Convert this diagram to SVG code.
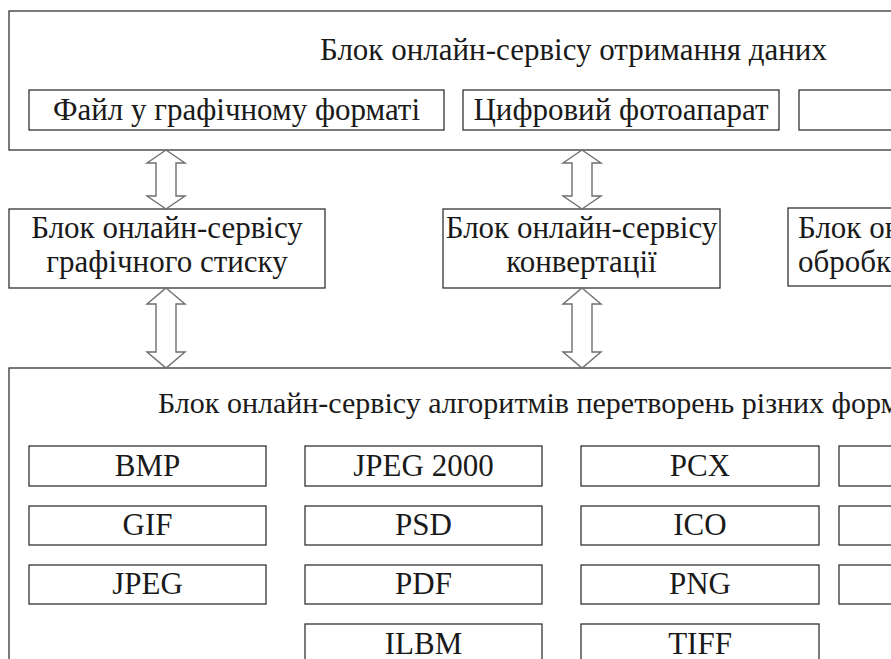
<svg xmlns="http://www.w3.org/2000/svg" width="891" height="659" viewBox="0 0 891 659" font-family="'Liberation Serif', Tinos, 'Times New Roman', 'DejaVu Serif', 'Noto Serif', serif">
<style>
.blk{fill:#fff;stroke:#333;stroke-width:1.3}
.t{font-family:'Liberation Serif', Tinos, 'Times New Roman', 'DejaVu Serif', 'Noto Serif', serif;font-size:31px;fill:#1a1a1a}
.c{text-anchor:middle}
.arr{fill:#fff;stroke:#6e6e6e;stroke-width:1.4;stroke-linejoin:miter}
</style>
<rect width="891" height="659" fill="#fff"/>
<g id="top-block">
<rect class="blk" x="9" y="11" width="900" height="139"/>
<text class="t" x="320" y="60">Блок онлайн-сервісу отримання даних</text>
</g>
<g id="file-graphic">
<rect class="blk" x="29" y="90" width="415" height="40"/>
<text class="t c" x="236.5" y="120">Файл у графічному форматі</text>
</g>
<g id="camera">
<rect class="blk" x="463" y="90" width="316" height="40"/>
<text class="t c" x="621" y="120">Цифровий фотоапарат</text>
</g>
<g id="source3">
<rect class="blk" x="799" y="90" width="120" height="40"/>
</g>
<g id="compress">
<rect class="blk" x="9" y="209" width="316" height="79"/>
<text class="t c" x="167" y="238">Блок онлайн-сервісу</text>
<text class="t c" x="167" y="272">графічного стиску</text>
</g>
<g id="convert">
<rect class="blk" x="443" y="209" width="277" height="79"/>
<text class="t c" x="581.5" y="238">Блок онлайн-сервісу</text>
<text class="t c" x="581.5" y="272">конвертації</text>
</g>
<g id="process">
<rect class="blk" x="788" y="208" width="200" height="78"/>
<text class="t" x="798" y="238">Блок онлайн-сервісу</text>
<text class="t" x="798" y="272">обробки</text>
</g>
<g id="algorithms">
<rect class="blk" x="9" y="368" width="900" height="320"/>
<text class="t" x="158" y="413" style="font-size:30px">Блок онлайн-сервісу алгоритмів перетворень різних форматів</text>
</g>
<g id="bmp"><rect class="blk" x="29" y="446" width="237" height="40"/><text class="t c" x="147.5" y="476">BMP</text></g>
<g id="gif"><rect class="blk" x="29" y="506" width="237" height="39"/><text class="t c" x="147.5" y="535">GIF</text></g>
<g id="jpeg"><rect class="blk" x="29" y="565" width="237" height="39"/><text class="t c" x="147.5" y="594">JPEG</text></g>
<g id="jpeg2000"><rect class="blk" x="305" y="446" width="237" height="40"/><text class="t c" x="423.5" y="476">JPEG 2000</text></g>
<g id="psd"><rect class="blk" x="305" y="506" width="237" height="39"/><text class="t c" x="423.5" y="535">PSD</text></g>
<g id="pdf"><rect class="blk" x="305" y="565" width="237" height="39"/><text class="t c" x="423.5" y="594">PDF</text></g>
<g id="ilbm"><rect class="blk" x="305" y="624" width="237" height="60"/><text class="t c" x="423.5" y="654">ILBM</text></g>
<g id="pcx"><rect class="blk" x="581" y="446" width="238" height="40"/><text class="t c" x="700" y="476">PCX</text></g>
<g id="ico"><rect class="blk" x="581" y="506" width="238" height="39"/><text class="t c" x="700" y="535">ICO</text></g>
<g id="png"><rect class="blk" x="581" y="565" width="238" height="39"/><text class="t c" x="700" y="594">PNG</text></g>
<g id="tiff"><rect class="blk" x="581" y="624" width="238" height="60"/><text class="t c" x="700" y="654">TIFF</text></g>
<g id="fmt4a"><rect class="blk" x="839" y="446" width="100" height="40"/></g>
<g id="fmt4b"><rect class="blk" x="839" y="506" width="100" height="39"/></g>
<g id="fmt4c"><rect class="blk" x="839" y="565" width="100" height="39"/></g>
<g id="connectors">
<polygon class="arr" points="166,150 185,163 176,163 176,196 185,196 166,209 147,196 156,196 156,163 147,163"/>
<polygon class="arr" points="166,288 185,304 176,304 176,352 185,352 166,368 147,352 156,352 156,304 147,304"/>
<polygon class="arr" points="582,150 601,163 592,163 592,196 601,196 582,209 563,196 572,196 572,163 563,163"/>
<polygon class="arr" points="582,288 601,304 592,304 592,352 601,352 582,368 563,352 572,352 572,304 563,304"/>
</g>
</svg>
